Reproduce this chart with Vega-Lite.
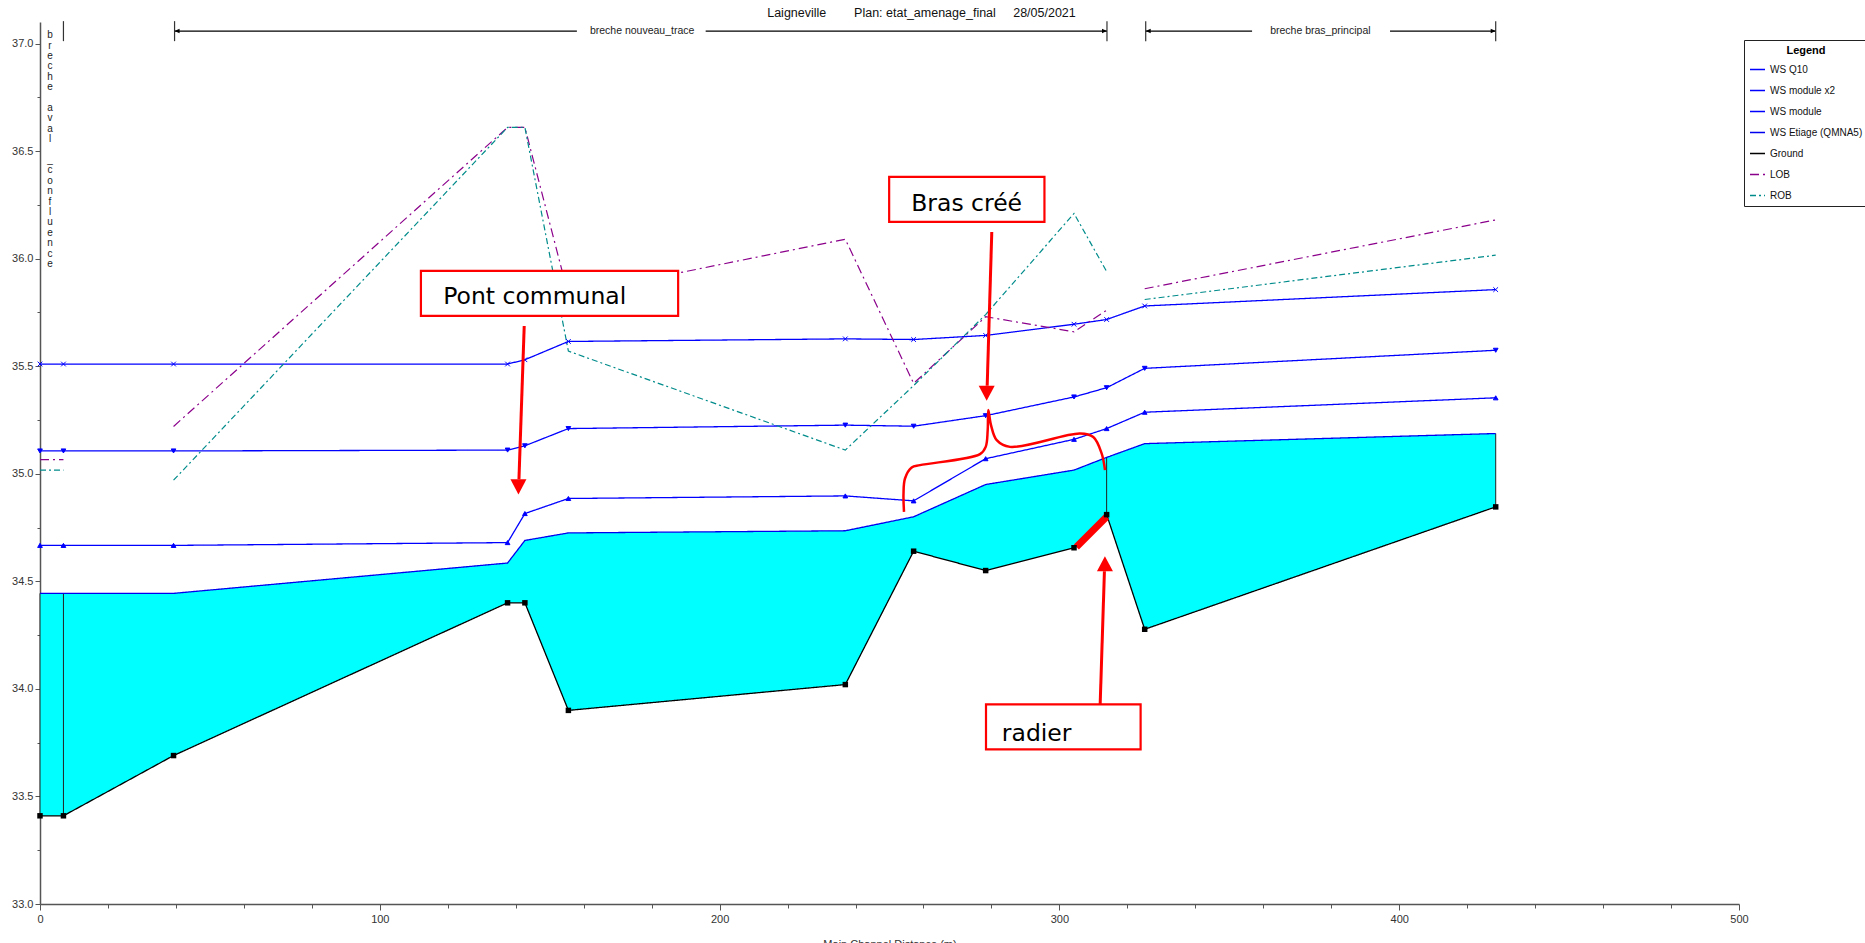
{
  "$schema": "https://vega.github.io/schema/vega-lite/v6.json",
  "width": 1699,
  "height": 882,
  "autosize": {"type": "none"},
  "padding": {"left": 40, "top": 22, "right": 126, "bottom": 39},
  "background": "white",
  "title": {
    "text": "Laigneville\u00a0\u00a0\u00a0\u00a0\u00a0\u00a0\u00a0\u00a0Plan: etat_amenage_final\u00a0\u00a0\u00a0\u00a0\u00a028/05/2021",
    "anchor": "middle", "dx": 32, "offset": 1, "font": "Liberation Sans", "fontSize": 12.5, "fontWeight": "normal", "color": "#111"
  },
  "config": {
    "view": {"stroke": null},
    "legend": {
      "orient": "none", "legendX": 1704, "legendY": 18,
      "strokeColor": "#222", "fillColor": "white", "padding": 5,
      "titleFont": "Liberation Sans", "titleFontSize": 11, "titleFontWeight": "bold", "titleAnchor": "middle", "titleColor": "#000",
      "labelFont": "Liberation Sans", "labelFontSize": 10, "labelColor": "#111", "labelOffset": 4,
      "symbolType": "stroke", "symbolSize": 225, "symbolStrokeWidth": 1.5, "rowPadding": 7
    }
  },
  "datasets": {
    "profile": [
      {"s":"GND","x":0,"y":33.41,"r":"a"},{"s":"GND","x":6.9,"y":33.41,"r":"a"},{"s":"GND","x":39.3,"y":33.69,"r":"b"},{"s":"GND","x":137.6,"y":34.40,"r":"b"},{"s":"GND","x":142.7,"y":34.40,"r":"b"},{"s":"GND","x":155.5,"y":33.90,"r":"b"},{"s":"GND","x":237.0,"y":34.02,"r":"b"},{"s":"GND","x":257.1,"y":34.64,"r":"b"},{"s":"GND","x":278.3,"y":34.55,"r":"b"},{"s":"GND","x":304.3,"y":34.656,"r":"b"},{"s":"GND","x":313.9,"y":34.81,"r":"b"},{"s":"GND","x":325.1,"y":34.277,"r":"c"},{"s":"GND","x":428.4,"y":34.846,"r":"c"},
      {"s":"ETI","x":0,"y":34.444,"r":"a"},{"s":"ETI","x":6.9,"y":34.444,"r":"a"},{"s":"ETI","x":39.3,"y":34.444,"r":"b"},{"s":"ETI","x":137.6,"y":34.585,"r":"b"},{"s":"ETI","x":142.7,"y":34.69,"r":"b"},{"s":"ETI","x":155.5,"y":34.725,"r":"b"},{"s":"ETI","x":237.0,"y":34.735,"r":"b"},{"s":"ETI","x":257.1,"y":34.80,"r":"b"},{"s":"ETI","x":278.3,"y":34.95,"r":"b"},{"s":"ETI","x":304.3,"y":35.017,"r":"b"},{"s":"ETI","x":313.9,"y":35.076,"r":"b"},{"s":"ETI","x":325.1,"y":35.14,"r":"c"},{"s":"ETI","x":428.4,"y":35.187,"r":"c"},
      {"s":"MOD","x":0,"y":34.667,"r":"a"},{"s":"MOD","x":6.9,"y":34.667,"r":"a"},{"s":"MOD","x":39.3,"y":34.667,"r":"b"},{"s":"MOD","x":137.6,"y":34.68,"r":"b"},{"s":"MOD","x":142.7,"y":34.815,"r":"b"},{"s":"MOD","x":155.5,"y":34.885,"r":"b"},{"s":"MOD","x":237.0,"y":34.897,"r":"b"},{"s":"MOD","x":257.1,"y":34.874,"r":"b"},{"s":"MOD","x":278.3,"y":35.07,"r":"b"},{"s":"MOD","x":304.3,"y":35.16,"r":"b"},{"s":"MOD","x":313.9,"y":35.21,"r":"b"},{"s":"MOD","x":325.1,"y":35.286,"r":"c"},{"s":"MOD","x":428.4,"y":35.353,"r":"c"},
      {"s":"X2","x":0,"y":35.106,"r":"a"},{"s":"X2","x":6.9,"y":35.106,"r":"a"},{"s":"X2","x":39.3,"y":35.106,"r":"b"},{"s":"X2","x":137.6,"y":35.11,"r":"b"},{"s":"X2","x":142.7,"y":35.13,"r":"b"},{"s":"X2","x":155.5,"y":35.21,"r":"b"},{"s":"X2","x":237.0,"y":35.226,"r":"b"},{"s":"X2","x":257.1,"y":35.221,"r":"b"},{"s":"X2","x":278.3,"y":35.27,"r":"b"},{"s":"X2","x":304.3,"y":35.357,"r":"b"},{"s":"X2","x":313.9,"y":35.40,"r":"b"},{"s":"X2","x":325.1,"y":35.49,"r":"c"},{"s":"X2","x":428.4,"y":35.574,"r":"c"},
      {"s":"Q10","x":0,"y":35.51,"r":"a"},{"s":"Q10","x":6.9,"y":35.51,"r":"a"},{"s":"Q10","x":39.3,"y":35.51,"r":"b"},{"s":"Q10","x":137.6,"y":35.51,"r":"b"},{"s":"Q10","x":142.7,"y":35.53,"r":"b"},{"s":"Q10","x":155.5,"y":35.615,"r":"b"},{"s":"Q10","x":237.0,"y":35.627,"r":"b"},{"s":"Q10","x":257.1,"y":35.624,"r":"b"},{"s":"Q10","x":278.3,"y":35.643,"r":"b"},{"s":"Q10","x":304.3,"y":35.695,"r":"b"},{"s":"Q10","x":313.9,"y":35.717,"r":"b"},{"s":"Q10","x":325.1,"y":35.78,"r":"c"},{"s":"Q10","x":428.4,"y":35.856,"r":"c"},
      {"s":"LOB","x":0,"y":35.066,"r":"a"},{"s":"LOB","x":6.9,"y":35.066,"r":"a"},{"s":"LOB","x":39.3,"y":35.22,"r":"b"},{"s":"LOB","x":137.6,"y":36.61,"r":"b"},{"s":"LOB","x":142.7,"y":36.61,"r":"b"},{"s":"LOB","x":155.5,"y":35.83,"r":"b"},{"s":"LOB","x":237.0,"y":36.09,"r":"b"},{"s":"LOB","x":257.1,"y":35.42,"r":"b"},{"s":"LOB","x":278.3,"y":35.73,"r":"b"},{"s":"LOB","x":304.3,"y":35.66,"r":"b"},{"s":"LOB","x":313.9,"y":35.76,"r":"b"},{"s":"LOB","x":325.1,"y":35.86,"r":"c"},{"s":"LOB","x":428.4,"y":36.18,"r":"c"},
      {"s":"ROB","x":0,"y":35.017,"r":"a"},{"s":"ROB","x":6.9,"y":35.017,"r":"a"},{"s":"ROB","x":39.3,"y":34.97,"r":"b"},{"s":"ROB","x":137.6,"y":36.61,"r":"b"},{"s":"ROB","x":142.7,"y":36.61,"r":"b"},{"s":"ROB","x":155.5,"y":35.57,"r":"b"},{"s":"ROB","x":237.0,"y":35.11,"r":"b"},{"s":"ROB","x":257.1,"y":35.41,"r":"b"},{"s":"ROB","x":278.3,"y":35.74,"r":"b"},{"s":"ROB","x":304.3,"y":36.21,"r":"b"},{"s":"ROB","x":313.9,"y":35.94,"r":"b"},{"s":"ROB","x":325.1,"y":35.81,"r":"c"},{"s":"ROB","x":428.4,"y":36.016,"r":"c"}
    ],
    "radier": [{"x":305.0,"y":34.66},{"x":313.9,"y":34.80}],
    "brace": [
      {"i":1,"x":254.27,"y":34.823},{"i":2,"x":254.12,"y":34.905},{"i":3,"x":254.56,"y":34.978},{"i":4,"x":256.53,"y":35.029},{"i":5,"x":258.98,"y":35.040},{"i":6,"x":276.63,"y":35.091},{"i":7,"x":278.31,"y":35.125},{"i":8,"x":278.9,"y":35.203},{"i":9,"x":279.08,"y":35.296},{"i":10,"x":279.87,"y":35.226},{"i":11,"x":281.55,"y":35.156},{"i":12,"x":285.46,"y":35.125},{"i":13,"x":306.06,"y":35.187},{"i":14,"x":309.97,"y":35.171},{"i":15,"x":312.45,"y":35.094},{"i":16,"x":313.42,"y":35.017}
    ],
    "boxes": [
      {"t":"Pont communal","x":112.1,"x2":187.8,"y":35.943,"y2":35.734,"tx":145.6,"ty":35.788},
      {"t":"Bras créé","x":249.9,"x2":295.6,"y":36.38,"y2":36.171,"tx":272.7,"ty":36.22},
      {"t":"radier","x":278.4,"x2":323.9,"y":33.928,"y2":33.719,"tx":293.3,"ty":33.76}
    ],
    "arrows": [
      {"x":142.5,"y":35.687,"x2":140.95,"y2":34.974,"tx":140.8,"ty":34.904,"d":"down"},
      {"x":280.1,"y":36.124,"x2":278.75,"y2":35.409,"tx":278.6,"ty":35.339,"d":"down"},
      {"x":312.0,"y":33.93,"x2":313.25,"y2":34.547,"tx":313.4,"ty":34.617,"d":"up"}
    ],
    "reachlines": [
      {"x":39.6,"x2":158.0,"y":37.058},{"x":195.9,"x2":314.0,"y":37.058},{"x":325.4,"x2":356.7,"y":37.058},{"x":397.3,"x2":428.4,"y":37.058}
    ],
    "reachticks": [
      {"x":6.9,"y":37.011,"y2":37.104},{"x":39.6,"y":37.011,"y2":37.104},{"x":314.0,"y":37.011,"y2":37.104},{"x":325.4,"y":37.011,"y2":37.104},{"x":428.4,"y":37.011,"y2":37.104}
    ],
    "reachheads": [
      {"x":39.6,"y":37.058,"d":"left"},{"x":314.0,"y":37.058,"d":"right"},{"x":325.4,"y":37.058,"d":"left"},{"x":428.4,"y":37.058,"d":"right"}
    ],
    "reachnames": [
      {"t":"breche nouveau_trace","x":177.2,"y":37.058},{"t":"breche bras_principal","x":376.8,"y":37.058},
      {"t":"b\nr\ne\nc\nh\ne","x":2.94,"y":37.062,"v":1},
      {"t":"a\nv\na\nl","x":2.94,"y":36.7237,"v":1},
      {"t":"_\nc\no\nn\nf\nl\nu\ne\nn\nc\ne","x":2.94,"y":36.482,"v":1}
    ]
  },
  "layer": [
    {
      "data": {"name": "profile"},
      "transform": [{"filter": "datum.s === 'GND' || datum.s === 'ETI'"}, {"pivot": "s", "value": "y", "groupby": ["x"]}],
      "mark": {"type": "area", "color": "#00FFFF", "opacity": 1},
      "encoding": {
        "x": {"field": "x", "type": "quantitative", "title": "Main Channel Distance (m)",
          "scale": {"domain": [0, 500], "nice": false, "zero": false},
          "axis": {"values": [0,20,40,60,80,100,120,140,160,180,200,220,240,260,280,300,320,340,360,380,400,420,440,460,480,500],
            "labelExpr": "datum.value % 100 === 0 ? datum.label : ''",
            "tickSize": {"condition": {"test": "datum.value % 100 === 0", "value": 6}, "value": 4},
            "grid": false, "domainColor": "#555", "domainWidth": 1.5, "tickColor": "#555", "labelColor": "#333",
            "labelFont": "Liberation Sans", "labelFontSize": 11, "labelOverlap": false, "labelFlush": false, "labelPadding": 3,
            "titleFont": "Liberation Sans", "titleFontSize": 11, "titleFontWeight": "normal", "titleColor": "#333", "titlePadding": 14}},
        "y": {"field": "ETI", "type": "quantitative", "title": null,
          "scale": {"domain": [33, 37.1], "nice": false, "zero": false},
          "axis": {"values": [33,33.25,33.5,33.75,34,34.25,34.5,34.75,35,35.25,35.5,35.75,36,36.25,36.5,36.75,37],
            "labelExpr": "(datum.value * 2) % 1 === 0 ? format(datum.value, '.1f') : ''",
            "tickSize": {"condition": {"test": "(datum.value * 2) % 1 === 0", "value": 5}, "value": 3},
            "grid": false, "domainColor": "#555", "domainWidth": 1.5, "tickColor": "#555", "labelColor": "#333",
            "labelFont": "Liberation Sans", "labelFontSize": 11, "labelOverlap": false, "labelPadding": 2}},
        "y2": {"field": "GND"}
      }
    },
    {
      "data": {"name": "profile"},
      "transform": [{"filter": "datum.s === 'GND' || datum.s === 'ETI'"}, {"pivot": "s", "value": "y", "groupby": ["x"]}, {"filter": "indexof([0, 6.9, 313.9, 428.4], datum.x) >= 0"}],
      "mark": {"type": "rule", "color": "#222", "strokeWidth": 1},
      "encoding": {
        "x": {"field": "x", "type": "quantitative", "title": "Main Channel Distance (m)"},
        "y": {"field": "ETI", "type": "quantitative", "title": null},
        "y2": {"field": "GND"}
      }
    },
    {
      "data": {"name": "profile"},
      "transform": [{"filter": "datum.s !== 'LOB' && datum.s !== 'ROB'"}],
      "mark": {"type": "line", "strokeWidth": 1.3},
      "encoding": {
        "x": {"field": "x", "type": "quantitative", "title": "Main Channel Distance (m)"},
        "y": {"field": "y", "type": "quantitative", "title": null},
        "color": {"field": "s", "type": "nominal", "title": "Legend",
          "scale": {"domain": ["Q10","X2","MOD","ETI","GND","LOB","ROB"], "range": ["#0000FF","#0000FF","#0000FF","#0000EE","#000000","#8B008B","#008B8B"]},
          "legend": {"labelExpr": "{'Q10':'WS Q10','X2':'WS module x2','MOD':'WS module','ETI':'WS Etiage (QMNA5)','GND':'Ground','LOB':'LOB','ROB':'ROB'}[datum.label]"}},
        "strokeDash": {"field": "s", "type": "nominal", "title": "Legend",
          "scale": {"domain": ["Q10","X2","MOD","ETI","GND","LOB","ROB"], "range": [[1,0],[1,0],[1,0],[1,0],[1,0],[9,4,2,4],[6,3,2,3]]},
          "legend": {"labelExpr": "{'Q10':'WS Q10','X2':'WS module x2','MOD':'WS module','ETI':'WS Etiage (QMNA5)','GND':'Ground','LOB':'LOB','ROB':'ROB'}[datum.label]"}}
      }
    },
    {
      "data": {"name": "profile"},
      "transform": [{"filter": "datum.s === 'LOB' || datum.s === 'ROB'"}],
      "mark": {"type": "line", "strokeWidth": 1.2},
      "encoding": {
        "x": {"field": "x", "type": "quantitative", "title": "Main Channel Distance (m)"},
        "y": {"field": "y", "type": "quantitative", "title": null},
        "detail": {"field": "r"},
        "color": {"field": "s", "type": "nominal", "title": "Legend"},
        "strokeDash": {"field": "s", "type": "nominal", "title": "Legend"}
      }
    },
    {
      "data": {"name": "radier"},
      "mark": {"type": "line", "color": "#FF0000", "strokeWidth": 7, "strokeCap": "butt"},
      "encoding": {
        "x": {"field": "x", "type": "quantitative", "title": "Main Channel Distance (m)"},
        "y": {"field": "y", "type": "quantitative", "title": null}
      }
    },
    {
      "data": {"name": "profile"},
      "transform": [{"filter": "datum.s === 'Q10' || datum.s === 'X2' || datum.s === 'MOD'"}],
      "mark": {"type": "point", "fill": "#0000FF", "stroke": "#0000FF", "strokeWidth": 1, "size": 22, "opacity": 1, "filled": true},
      "encoding": {
        "x": {"field": "x", "type": "quantitative", "title": "Main Channel Distance (m)"},
        "y": {"field": "y", "type": "quantitative", "title": null},
        "shape": {"field": "s", "type": "nominal", "legend": null,
          "scale": {"domain": ["Q10","X2","MOD"], "range": ["M-1,-1L1,1M-1,1L1,-1", "triangle-down", "triangle-up"]}}
      }
    },
    {
      "data": {"name": "profile"},
      "transform": [{"filter": "datum.s === 'GND'"}],
      "mark": {"type": "point", "shape": "square", "fill": "#000000", "stroke": null, "size": 30, "opacity": 1, "filled": true},
      "encoding": {
        "x": {"field": "x", "type": "quantitative", "title": "Main Channel Distance (m)"},
        "y": {"field": "y", "type": "quantitative", "title": null}
      }
    },
    {
      "data": {"name": "brace"},
      "mark": {"type": "line", "color": "#FF0000", "strokeWidth": 2.5, "interpolate": "catmull-rom"},
      "encoding": {
        "x": {"field": "x", "type": "quantitative", "title": "Main Channel Distance (m)"},
        "y": {"field": "y", "type": "quantitative", "title": null},
        "order": {"field": "i", "type": "quantitative"}
      }
    },
    {
      "data": {"name": "boxes"},
      "mark": {"type": "rect", "fill": "#FFFFFF", "stroke": "#FF0000", "strokeWidth": 2.2},
      "encoding": {
        "x": {"field": "x", "type": "quantitative", "title": "Main Channel Distance (m)"},
        "x2": {"field": "x2"},
        "y": {"field": "y", "type": "quantitative", "title": null},
        "y2": {"field": "y2"}
      }
    },
    {
      "data": {"name": "boxes"},
      "mark": {"type": "text", "font": "DejaVu Sans", "fontSize": 23.5, "color": "#000000", "align": "center", "baseline": "alphabetic"},
      "encoding": {
        "x": {"field": "tx", "type": "quantitative", "title": "Main Channel Distance (m)"},
        "y": {"field": "ty", "type": "quantitative", "title": null},
        "text": {"field": "t"}
      }
    },
    {
      "data": {"name": "arrows"},
      "mark": {"type": "rule", "color": "#FF0000", "strokeWidth": 3},
      "encoding": {
        "x": {"field": "x", "type": "quantitative", "title": "Main Channel Distance (m)"},
        "x2": {"field": "x2"},
        "y": {"field": "y", "type": "quantitative", "title": null},
        "y2": {"field": "y2"}
      }
    },
    {
      "data": {"name": "arrows"},
      "transform": [{"filter": "datum.d === 'down'"}],
      "mark": {"type": "point", "shape": "M-1,-1.9L1,-1.9L0,0Z", "size": 256, "fill": "#FF0000", "stroke": null, "opacity": 1, "filled": true},
      "encoding": {
        "x": {"field": "tx", "type": "quantitative", "title": "Main Channel Distance (m)"},
        "y": {"field": "ty", "type": "quantitative", "title": null}
      }
    },
    {
      "data": {"name": "arrows"},
      "transform": [{"filter": "datum.d === 'up'"}],
      "mark": {"type": "point", "shape": "M-1,1.9L1,1.9L0,0Z", "size": 256, "fill": "#FF0000", "stroke": null, "opacity": 1, "filled": true},
      "encoding": {
        "x": {"field": "tx", "type": "quantitative", "title": "Main Channel Distance (m)"},
        "y": {"field": "ty", "type": "quantitative", "title": null}
      }
    },
    {
      "data": {"name": "reachlines"},
      "mark": {"type": "rule", "color": "#000000", "strokeWidth": 1.2},
      "encoding": {
        "x": {"field": "x", "type": "quantitative", "title": "Main Channel Distance (m)"},
        "x2": {"field": "x2"},
        "y": {"field": "y", "type": "quantitative", "title": null}
      }
    },
    {
      "data": {"name": "reachticks"},
      "mark": {"type": "rule", "color": "#333333", "strokeWidth": 1.2},
      "encoding": {
        "x": {"field": "x", "type": "quantitative", "title": "Main Channel Distance (m)"},
        "y": {"field": "y", "type": "quantitative", "title": null},
        "y2": {"field": "y2"}
      }
    },
    {
      "data": {"name": "reachheads"},
      "transform": [{"filter": "datum.d === 'left'"}],
      "mark": {"type": "point", "shape": "M0,0L2,-0.9L2,0.9Z", "size": 25, "fill": "#000000", "stroke": null, "opacity": 1, "filled": true},
      "encoding": {
        "x": {"field": "x", "type": "quantitative", "title": "Main Channel Distance (m)"},
        "y": {"field": "y", "type": "quantitative", "title": null}
      }
    },
    {
      "data": {"name": "reachheads"},
      "transform": [{"filter": "datum.d === 'right'"}],
      "mark": {"type": "point", "shape": "M0,0L-2,-0.9L-2,0.9Z", "size": 25, "fill": "#000000", "stroke": null, "opacity": 1, "filled": true},
      "encoding": {
        "x": {"field": "x", "type": "quantitative", "title": "Main Channel Distance (m)"},
        "y": {"field": "y", "type": "quantitative", "title": null}
      }
    },
    {
      "data": {"name": "reachnames"},
      "transform": [{"filter": "!datum.v"}],
      "mark": {"type": "text", "font": "Liberation Sans", "fontSize": 10.5, "color": "#222", "align": "center", "baseline": "middle"},
      "encoding": {
        "x": {"field": "x", "type": "quantitative", "title": "Main Channel Distance (m)"},
        "y": {"field": "y", "type": "quantitative", "title": null},
        "text": {"field": "t"}
      }
    },
    {
      "data": {"name": "reachnames"},
      "transform": [{"filter": "datum.v"}],
      "mark": {"type": "text", "font": "Liberation Sans", "fontSize": 10, "color": "#222", "align": "center", "baseline": "top", "lineBreak": "\n", "lineHeight": 10.4},
      "encoding": {
        "x": {"field": "x", "type": "quantitative", "title": "Main Channel Distance (m)"},
        "y": {"field": "y", "type": "quantitative", "title": null},
        "text": {"field": "t"}
      }
    }
  ]
}
